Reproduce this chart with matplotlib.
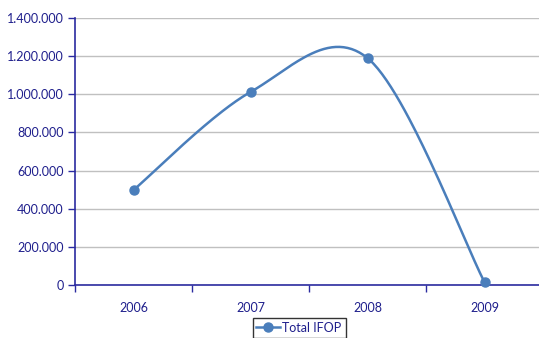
import numpy as np
import matplotlib
matplotlib.use("Agg")
import matplotlib.pyplot as plt
from matplotlib.ticker import FuncFormatter, MultipleLocator
from matplotlib.lines import Line2D

years = ["2006", "2007", "2008", "2009"]
values = [498000, 1012000, 1190000, 15000]
series_name = "Total IFOP"

line_color = "#4a7ebb"
text_color = "#1f1f8c"
axis_color = "#2b2ba0"

plt.rcParams['font.family'] = ['Lato', 'DejaVu Sans']

W, H = 539, 338
fig = plt.figure(figsize=(W / 100, H / 100), dpi=100)
ax = fig.add_axes([75 / W, 1 - 285 / H, 468 / W, 267 / H])

x = np.arange(len(values), dtype=float)
y = np.array(values, dtype=float)

# Excel-style smoothed line (Catmull-Rom as cubic Bezier)
xs, ys = [], []
n = len(x)
for i in range(n - 1):
    p0 = np.array([x[max(i - 1, 0)], y[max(i - 1, 0)]])
    p1 = np.array([x[i], y[i]])
    p2 = np.array([x[i + 1], y[i + 1]])
    p3 = np.array([x[min(i + 2, n - 1)], y[min(i + 2, n - 1)]])
    c1 = p1 + (p2 - p0) / 6
    c2 = p2 - (p3 - p1) / 6
    t = np.linspace(0, 1, 60)[:, None]
    pts = ((1 - t) ** 3) * p1 + 3 * ((1 - t) ** 2) * t * c1 + 3 * (1 - t) * t ** 2 * c2 + t ** 3 * p2
    xs.extend(pts[:, 0]); ys.extend(pts[:, 1])

ax.plot(xs, ys, color=line_color, lw=1.8, solid_capstyle='round', zorder=3, clip_on=False)
ax.plot(x, y, 'o', color=line_color, ms=6.5, zorder=4, clip_on=False)

ax.set_xlim(-0.5, 3.5)
ax.set_ylim(0, 1400000)
ax.yaxis.set_major_locator(MultipleLocator(200000))
ax.yaxis.set_major_formatter(FuncFormatter(lambda v, p: f"{int(v):,}".replace(",", ".")))
ax.grid(axis='y', color='#c0c0c0', lw=1)
ax.set_axisbelow(True)

ax.set_xticks(x)
ax.set_xticklabels(years)
ax.set_xticks(np.arange(-0.5, 3.6, 1.0), minor=True)
ax.tick_params(axis='x', which='major', length=0, pad=12, labelsize=9, labelcolor=text_color)
ax.tick_params(axis='x', which='minor', length=5, width=1, color=axis_color, direction='out')
ax.tick_params(axis='y', length=5, width=1, color=axis_color, labelsize=9, labelcolor=text_color, pad=3)

for s in ['top', 'right']:
    ax.spines[s].set_visible(False)
for s in ['left', 'bottom']:
    ax.spines[s].set_color(axis_color)
    ax.spines[s].set_linewidth(1.2)

handle = Line2D([0], [0], color=line_color, lw=1.8, marker='o', ms=6.5)
leg = fig.legend([handle], [series_name], loc='upper center', bbox_to_anchor=(299 / W, 1 - 318 / H),
                 frameon=True, fancybox=False, edgecolor='black', fontsize=9,
                 handlelength=1.9, handletextpad=0.2, borderpad=0.3, borderaxespad=0)
for t in leg.get_texts():
    t.set_color(text_color)
leg.get_frame().set_linewidth(1)

fig.savefig("out.png", dpi=100)
